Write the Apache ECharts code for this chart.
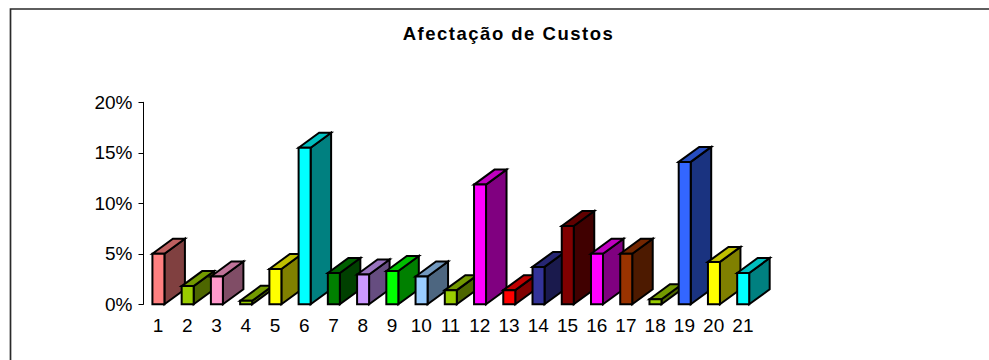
<!DOCTYPE html>
<html><head><meta charset="utf-8">
<style>html,body{margin:0;padding:0;background:#fff}#c{width:989px;height:360px}
#c text[style*="bold"]{letter-spacing:1.5px}</style>
<script src="https://cdn.jsdelivr.net/npm/echarts@6/dist/echarts.min.js"></script>
</head><body><div id="c"></div>
<script>
const title = 'Afectação de Custos';
const categories = ['1','2','3','4','5','6','7','8','9','10','11','12','13','14','15','16','17','18','19','20','21'];
const values = [5.0,1.8,2.75,0.35,3.5,15.5,3.1,2.95,3.3,2.75,1.4,11.85,1.4,3.7,7.75,5.0,5.0,0.5,14.1,4.2,3.1];
const frontColors = ['#FF8080','#99CC00','#FF99CC','#99CC00','#FFFF00','#00FFFF','#008000','#CC99FF','#00FF00','#99CCFF','#99CC00','#FF00FF','#FF0000','#333399','#800000','#FF00FF','#993300','#99CC00','#3366FF','#FFFF00','#00FFFF'];
const yTicks = [0,5,10,15,20];

function shade(hex, k){
  const n = parseInt(hex.slice(1),16);
  const f = s => Math.round(((n>>s)&255)*k);
  return 'rgb('+f(16)+','+f(8)+','+f(0)+')';
}
const DX = 20.5, DY = 15, W = 12;
const edge = {stroke:'#000', lineWidth:2, lineJoin:'miter'};

function renderBar(params, api){
  const i = api.value(0);
  const top = api.coord([i, api.value(1)]);
  const base = api.coord([i, 0]);
  const l = top[0]-W/2+0.3, r = top[0]+W/2+0.3, t = top[1], b = base[1];
  const c = frontColors[params.dataIndex];
  const poly = (pts, fill) => ({type:'polygon', shape:{points:pts}, style:Object.assign({fill}, edge)});
  return {type:'group', children:[
    poly([[r,b],[r+DX,b-DY],[r+DX,t-DY],[r,t]], shade(c,0.5)),
    poly([[l,t],[l+DX,t-DY],[r+DX,t-DY],[r,t]], shade(c,0.75)),
    poly([[l,t],[r,t],[r,b],[l,b]], c)
  ]};
}

const chart = echarts.init(document.getElementById('c'), null, {renderer:'svg'});
chart.setOption({
  animation:false,
  backgroundColor:'#fff',
  title:{text:title, left:503.5, top:19, textAlign:'center',
    textStyle:{fontFamily:'Liberation Sans', fontSize:18.5, fontWeight:'bold', color:'#000'}},
  grid:{left:143.5, top:102.3, width:614, height:202},
  graphic:[{type:'polyline', silent:true, z:-1,
    shape:{points:[[10.5,360],[10.5,9],[989,9]]},
    style:{fill:'none', stroke:'#2a2a2a', lineWidth:1.7}}],
  xAxis:{type:'category', data:categories,
    axisLine:{show:false}, axisTick:{show:false},
    axisLabel:{interval:0, margin:12, color:'#000', fontFamily:'Liberation Sans', fontSize:19}},
  yAxis:{type:'value', min:0, max:20, interval:5,
    axisLine:{show:true, lineStyle:{color:'#000', width:1}},
    axisTick:{show:true, length:5, lineStyle:{color:'#000'}},
    splitLine:{show:false},
    axisLabel:{margin:11, color:'#000', fontFamily:'Liberation Sans', fontSize:19, padding:[0,0,5,0],
      formatter: v => yTicks.includes(v) ? v+'%' : ''}},
  series:[{type:'custom', renderItem:renderBar, clip:false,
    encode:{x:0,y:1},
    data:values.map((v,i)=>[i,v])}]
});
</script></body></html>
